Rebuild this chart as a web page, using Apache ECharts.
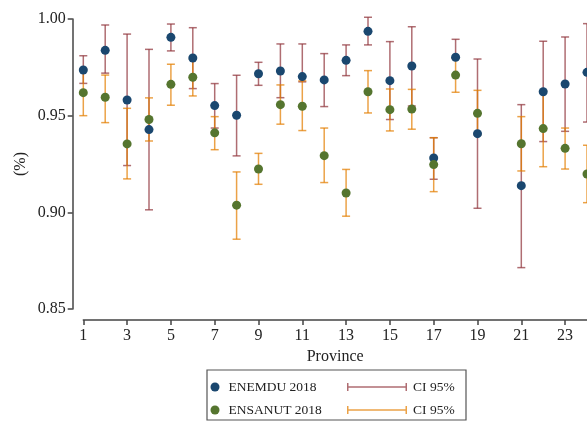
<!DOCTYPE html>
<html>
<head>
<meta charset="utf-8">
<script src="https://cdn.jsdelivr.net/npm/echarts@6/dist/echarts.min.js"></script>
<style>
  html, body { margin: 0; padding: 0; background: #fff; }
  #main { width: 587px; height: 422px; }
</style>
</head>
<body>
<div id="main"></div>
<script>
// provinces 1..24, province 20 has no estimate
var provinces = [1, 2, 3, 4, 5, 6, 7, 8, 9, 10, 11, 12, 13, 14, 15, 16, 17, 18, 19, 20, 21, 22, 23, 24];

var enemdu     = [0.9736, 0.9838, 0.9581, 0.9428, 0.9905, 0.9798, 0.9552, 0.9502, 0.9717, 0.9731, 0.9702, 0.9685, 0.9786, 0.9936, 0.9681, 0.9757, 0.9281, 0.9802, 0.9407, null, 0.9138, 0.9624, 0.9664, 0.9724];
var enemduLow  = [0.9667, 0.9720, 0.9242, 0.9013, 0.9835, 0.9640, 0.9436, 0.9292, 0.9657, 0.9593, 0.9675, 0.9547, 0.9707, 0.9866, 0.9480, 0.9550, 0.9171, 0.9797, 0.9021, null, 0.8714, 0.9366, 0.9419, 0.9467];
var enemduHigh = [0.9810, 0.9969, 0.9922, 0.9843, 0.9974, 0.9955, 0.9666, 0.9709, 0.9776, 0.9871, 0.9871, 0.9821, 0.9866, 1.0009, 0.9883, 0.9960, 0.9386, 0.9895, 0.9793, null, 0.9557, 0.9885, 0.9907, 0.9976];

var ensanut     = [0.9619, 0.9595, 0.9354, 0.9480, 0.9662, 0.9699, 0.9411, 0.9037, 0.9224, 0.9557, 0.9549, 0.9293, 0.9100, 0.9624, 0.9531, 0.9534, 0.9247, 0.9710, 0.9512, null, 0.9355, 0.9433, 0.9331, 0.9198];
var ensanutLow  = [0.9500, 0.9464, 0.9173, 0.9369, 0.9554, 0.9602, 0.9324, 0.8861, 0.9145, 0.9456, 0.9423, 0.9154, 0.8980, 0.9514, 0.9421, 0.9430, 0.9107, 0.9621, 0.9402, null, 0.9214, 0.9236, 0.9224, 0.9050];
var ensanutHigh = [0.9740, 0.9710, 0.9538, 0.9592, 0.9766, 0.9792, 0.9495, 0.9209, 0.9305, 0.9659, 0.9680, 0.9436, 0.9222, 0.9733, 0.9638, 0.9636, 0.9386, 0.9797, 0.9631, null, 0.9495, 0.9628, 0.9436, 0.9347];

var yTicks = [0.85, 0.90, 0.95, 1.00];

var FONT = 'Liberation Serif';

function points(vals) {
  var out = [];
  for (var i = 0; i < provinces.length; i++) {
    if (vals[i] != null) out.push([provinces[i], vals[i]]);
  }
  return out;
}
function ranges(lo, hi) {
  var out = [];
  for (var i = 0; i < provinces.length; i++) {
    if (lo[i] != null) out.push([provinces[i], lo[i], hi[i]]);
  }
  return out;
}

// error bar: vertical line with caps
function renderBar(params, api) {
  var x = api.value(0);
  var lo = api.coord([x, api.value(1)]);
  var hi = api.coord([x, api.value(2)]);
  var w = 4;
  var style = { stroke: api.visual('color'), lineWidth: 1.5 };
  return {
    type: 'group',
    children: [
      { type: 'line', shape: { x1: lo[0], y1: hi[1], x2: lo[0], y2: lo[1] }, style: style },
      { type: 'line', shape: { x1: lo[0] - w, y1: hi[1], x2: lo[0] + w, y2: hi[1] }, style: style },
      { type: 'line', shape: { x1: lo[0] - w, y1: lo[1], x2: lo[0] + w, y2: lo[1] }, style: style }
    ]
  };
}

var chart = echarts.init(document.getElementById('main'));

var barIcon = 'path://M0,0H1.5V8H0Z M0,3.25H60V4.75H0Z M58.5,0H60V8H58.5Z';

var option = {
  animation: false,
  backgroundColor: '#fff',
  textStyle: { fontFamily: FONT },
  grid: { left: 83.3, right: -2.3, top: 19, bottom: 113, containLabel: false },
  xAxis: {
    type: 'value',
    min: 1,
    max: 24,
    interval: 2,
    offset: 11,
    name: 'Province',
    nameLocation: 'middle',
    nameGap: 23,
    nameTextStyle: { fontFamily: FONT, fontSize: 16, color: '#222' },
    axisLine: { show: true, lineStyle: { color: '#444', width: 1.5 } },
    axisTick: { show: true, length: 5, lineStyle: { color: '#444', width: 1.5 } },
    axisLabel: { fontFamily: FONT, fontSize: 16, color: '#222', margin: 8, showMaxLabel: false },
    splitLine: { show: false }
  },
  yAxis: {
    type: 'value',
    min: yTicks[0],
    max: yTicks[yTicks.length - 1],
    interval: 0.05,
    offset: 10.6,
    name: '(%)',
    nameLocation: 'middle',
    nameGap: 44,
    nameMoveOverlap: false,
    nameRotate: 90,
    nameTextStyle: { fontFamily: FONT, fontSize: 16, color: '#222' },
    axisLine: { show: true, lineStyle: { color: '#444', width: 1.5 } },
    axisTick: { show: true, length: 5, lineStyle: { color: '#444', width: 1.5 } },
    axisLabel: {
      fontFamily: FONT, fontSize: 16, color: '#222', margin: 7,
      formatter: function (v) { return v.toFixed(2); }
    },
    splitLine: { show: false }
  },
  legend: [
    {
      data: ['ENEMDU 2018', 'ENSANUT 2018'],
      orient: 'vertical',
      left: 210.5,
      top: 380,
      icon: 'circle',
      itemWidth: 9,
      itemHeight: 9,
      itemGap: 9,
      padding: 0,
      textStyle: { fontFamily: FONT, fontSize: 13.5, color: '#222', lineHeight: 14, padding: [0, 0, 0, 4] },
      selectedMode: false
    },
    {
      data: ['ci1', 'ci2'],
      orient: 'vertical',
      left: 347,
      top: 380,
      icon: barIcon,
      itemWidth: 60,
      itemHeight: 8,
      itemGap: 9,
      padding: 0,
      formatter: function () { return 'CI 95%'; },
      textStyle: { fontFamily: FONT, fontSize: 13.5, color: '#222', lineHeight: 14, padding: [0, 0, 0, 1] },
      selectedMode: false
    }
  ],
  graphic: [
    {
      type: 'rect',
      shape: { x: 207, y: 370, width: 259, height: 50 },
      style: { fill: 'none', stroke: '#555', lineWidth: 1.2 }
    }
  ],
  series: [
    {
      name: 'ci1',
      type: 'custom',
      renderItem: renderBar,
      itemStyle: { color: 'rgba(144,53,59,0.72)' },
      encode: { x: 0, y: [1, 2] },
      data: ranges(enemduLow, enemduHigh),
      z: 2
    },
    {
      name: 'ci2',
      type: 'custom',
      renderItem: renderBar,
      itemStyle: { color: 'rgba(227,126,0,0.72)' },
      encode: { x: 0, y: [1, 2] },
      data: ranges(ensanutLow, ensanutHigh),
      z: 3
    },
    {
      name: 'ENEMDU 2018',
      type: 'scatter',
      symbol: 'circle',
      symbolSize: 9,
      itemStyle: { color: '#1a476f', opacity: 1 },
      data: points(enemdu),
      clip: false,
      z: 4
    },
    {
      name: 'ENSANUT 2018',
      type: 'scatter',
      symbol: 'circle',
      symbolSize: 9,
      itemStyle: { color: '#55752f', opacity: 1 },
      data: points(ensanut),
      clip: false,
      z: 5
    }
  ]
};

chart.setOption(option);
</script>
</body>
</html>
